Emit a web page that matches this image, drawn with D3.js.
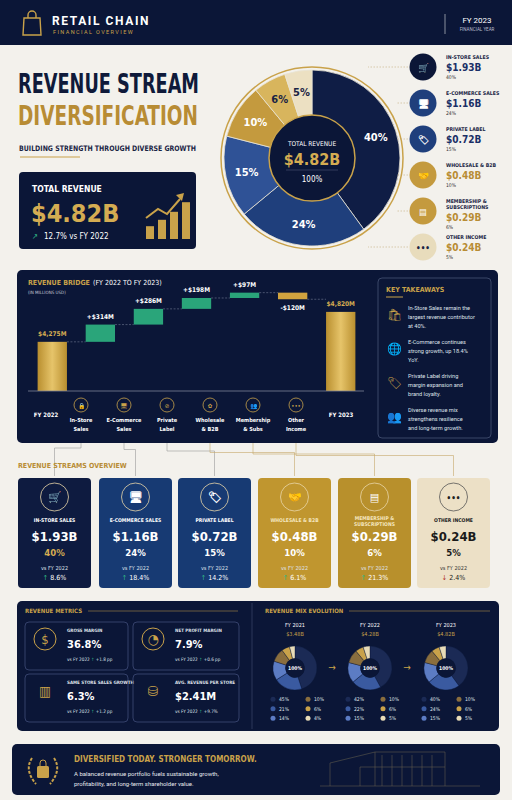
<!DOCTYPE html>
<html><head><meta charset="utf-8">
<script src="https://cdn.jsdelivr.net/npm/d3@7"></script>
<style>body{margin:0;background:#f3f1ec}svg{display:block}</style>
</head><body>
<script>
// ---------- DATA ----------
const streams = ["In-Store Sales","E-Commerce Sales","Private Label","Wholesale & B2B","Membership & Subscriptions","Other Income"];
const streamUpper = ["IN-STORE SALES","E-COMMERCE SALES","PRIVATE LABEL","WHOLESALE & B2B","MEMBERSHIP &|SUBSCRIPTIONS","OTHER INCOME"];
const streamValues = ["$1.93B","$1.16B","$0.72B","$0.48B","$0.29B","$0.24B"];
const streamShares = [40,24,15,10,6,5];
const streamChange = [8.6,18.4,14.2,6.1,21.3,-2.4];
const catLab = ["FY 2022","In-Store|Sales","E-Commerce|Sales","Private|Label","Wholesale|& B2B","Membership|& Subs","Other|Income","FY 2023"];
const bridgeSteps = [4275,314,286,198,97,-120,4820];
const bridgeLabels = ["$4,275M","+$314M","+$286M","+$198M","+$97M","-$120M","$4,820M"];
const takeaways = [["In-Store Sales remain the","largest revenue contributor","at 40%."],["E-Commerce continues","strong growth, up 18.4%","YoY."],["Private Label driving","margin expansion and","brand loyalty."],["Diverse revenue mix","strengthens resilience","and long-term growth."]];
const metricNames = ["GROSS MARGIN","NET PROFIT MARGIN","SAME STORE SALES GROWTH","AVG. REVENUE PER STORE"];
const metricValues = ["36.8%","7.9%","6.3%","$2.41M"];
const metricDeltas = ["+1.8 pp","+0.6 pp","+1.2 pp","+9.7%"];
const mixYears = ["FY 2021","FY 2022","FY 2023"];
const mixTotals = ["$3.48B","$4.28B","$4.82B"];
const mix2021 = [45,21,14,10,6,4];
const mix2022 = [42,22,15,10,6,5];
const mix2023 = [40,24,15,10,6,5];

const colors = ["#0f1d45","#1f3f7c","#2f5296","#c49a3e","#d8b55d","#ece0c2"];
const mixColors = ["#1b2a55","#3a5aa0","#5c7cc4","#8a6e3e","#c9a24a","#e8dcb8"];
const NAVY="#0b1637", GOLD="#c9a24a", GREEN="#2fb585";
const F="'DejaVu Sans Condensed','Roboto',sans-serif";
const FB="'Roboto','DejaVu Sans',sans-serif";

const svg=d3.select("body").append("svg").attr("width",512).attr("height",800).style("font-family",F);
svg.append("rect").attr("width",512).attr("height",800).attr("fill","#f3f1ec");
const t=(g,x,y,size,opt={})=>g.append("text").attr("x",x).attr("y",y)
  .attr("font-size",size).attr("fill",opt.fill||"#fff").attr("font-weight",opt.w||"normal")
  .attr("text-anchor",opt.a||"start").attr("letter-spacing",opt.ls||0).attr("font-family",opt.f||F);

// ---------- HEADER ----------
svg.append("rect").attr("width",512).attr("height",45).attr("fill",NAVY);
svg.append("path").attr("d","M24 18 h16 l1 17 h-18 z M28 18 v-3 a4 4 0 0 1 8 0 v3").attr("fill","none").attr("stroke",GOLD).attr("stroke-width",1.4);
t(svg,52,25,12,{w:"bold",ls:1.6,f:FB}).text("RETAIL CHAIN");
t(svg,53,34,5.5,{fill:GOLD,ls:1.4,f:FB}).text("FINANCIAL OVERVIEW");
svg.append("line").attr("x1",445).attr("x2",445).attr("y1",14).attr("y2",34).attr("stroke","#8a8f9e");
t(svg,477,23,8,{a:"middle",f:FB}).text("FY 2023");
t(svg,477,31,4.5,{a:"middle",fill:"#b8bccb",f:FB}).text("FINANCIAL YEAR");

// ---------- TITLE ----------
t(svg,18,93,27,{w:"bold",fill:"#0f1a3a"}).attr("textLength",181).attr("lengthAdjust","spacingAndGlyphs").text("REVENUE STREAM");
t(svg,18,125,27,{w:"bold",fill:"#b88c34"}).attr("textLength",180).attr("lengthAdjust","spacingAndGlyphs").text("DIVERSIFICATION");
t(svg,19,151,7.5,{w:"bold",fill:"#1a2444"}).attr("textLength",177).attr("lengthAdjust","spacingAndGlyphs").text("BUILDING STRENGTH THROUGH DIVERSE GROWTH");
svg.append("line").attr("x1",20).attr("x2",80).attr("y1",157).attr("y2",157).attr("stroke",GOLD).attr("stroke-width",1.2);
svg.append("rect").attr("x",19).attr("y",172).attr("width",177).attr("height",77).attr("rx",4).attr("fill",NAVY);
t(svg,32,192,8.5,{w:"bold"}).text("TOTAL REVENUE");
t(svg,31,222,25,{w:"bold",fill:"#d4ac52"}).text("$4.82B");
t(svg,32,239,8,{fill:GREEN}).text("↗");
t(svg,44,239,8).text("12.7% vs FY 2022");
[1.6,2.4,3.4,4.6].forEach((v,i)=>svg.append("rect").attr("x",146+i*12).attr("width",8).attr("y",239-v*8).attr("height",v*8).attr("fill",GOLD));
svg.append("path").attr("d","M146 218 l12 -9 l9 5 l13 -15").attr("fill","none").attr("stroke",GOLD).attr("stroke-width",2);
svg.append("path").attr("d","M176 195 l8 -2 l-2 8 z").attr("fill",GOLD);

// ---------- MAIN DONUT ----------
const cx=312,cy=158;
const pie=d3.pie().sort(null).value(d=>d);
const arcs=pie(streamShares);
const arc=d3.arc().innerRadius(40).outerRadius(88);
const dg=svg.append("g").attr("transform",`translate(${cx},${cy})`);
dg.append("circle").attr("r",91).attr("fill","none").attr("stroke",GOLD).attr("stroke-width",1.5);
dg.selectAll("path").data(arcs).join("path").attr("d",arc).attr("fill",(d,i)=>colors[i]).attr("stroke","#e9e3d4").attr("stroke-width",0.8);
const lab=d3.arc().innerRadius(67).outerRadius(67);
dg.selectAll("text.p").data(arcs).join("text").attr("class","p")
  .attr("transform",d=>`translate(${lab.centroid(d)})`).attr("dy","0.35em").attr("text-anchor","middle")
  .attr("font-size",11).attr("font-weight","bold").attr("fill",(d,i)=>i==5||i==4?"#1a2444":"#fff")
  .text((d,i)=>streamShares[i]+"%");
dg.append("circle").attr("r",43).attr("fill",NAVY).attr("stroke",GOLD).attr("stroke-width",1.5);
t(dg,0,-12,6.5,{a:"middle"}).text("TOTAL REVENUE");
t(dg,0,7,16,{a:"middle",w:"bold",fill:"#d4ac52"}).text("$4.82B");
dg.append("line").attr("x1",-26).attr("x2",26).attr("y1",12).attr("y2",12).attr("stroke","#5a6380").attr("stroke-width",0.5);
t(dg,0,24,8,{a:"middle"}).text("100%");

// legend right
const legIcons=["🛒","🖥","🏷","🤝","▤","•••"];
streams.forEach((s,i)=>{
  const y=67+i*36;
  svg.append("circle").attr("cx",423).attr("cy",y).attr("r",13.5).attr("fill",i<1?NAVY:i<3?"#1f3f7c":i<5?"#c49a3e":"#e8dcbc");
  t(svg,423,y+3.5,i==5?8:9,{a:"middle",fill:i==5?"#1a2444":"#fff",w:"bold"}).text(legIcons[i]);
  const nm=streamUpper[i].split("|");
  nm.forEach((n,j)=>t(svg,446,y-8+j*6,5.2,{w:"bold",fill:"#1a2444"}).text(n));
  const off=(nm.length-1)*6;
  t(svg,446,y+4+off,10,{w:"bold",fill:i<3?"#1a2f66":"#b88c34"}).text(streamValues[i]);
  t(svg,446,y+12+off,5,{fill:"#333"}).text(streamShares[i]+"%");
  svg.append("path").attr("d",`M408 ${y} h-${i==0||i==5?40:12}`).attr("stroke","#b9a06a").attr("stroke-width",0.5).attr("stroke-dasharray","1.5,1.5");
});

// ---------- BRIDGE ----------
svg.append("rect").attr("x",17).attr("y",270).attr("width",481).attr("height",173).attr("rx",5).attr("fill",NAVY);
t(svg,28,285,7,{w:"bold",fill:GOLD}).text("REVENUE BRIDGE");
t(svg,93,285,7,{fill:"#fff"}).text("(FY 2022 TO FY 2023)");
t(svg,28,294,4.5,{fill:"#c8ccd8"}).text("(IN MILLIONS USD)");
const y=d3.scaleLinear().domain([3380,5000]).range([391,302]);
let run=0; const bars=[];
bridgeSteps.forEach((v,i)=>{
  if(i==0){bars.push({s:y.domain()[0],e:v,k:"t"});run=v;}
  else if(i==6){bars.push({s:y.domain()[0],e:v,k:"t"});}
  else {bars.push({s:run,e:run+v,k:v>0?"p":"n"});run+=v;}
});
const grad=svg.append("defs").append("linearGradient").attr("id","gg").attr("x1",0).attr("x2",1);
grad.append("stop").attr("offset",0).attr("stop-color","#b98f2f");grad.append("stop").attr("offset",.5).attr("stop-color","#e6c46a");grad.append("stop").attr("offset",1).attr("stop-color","#b98f2f");
const xb=d3.scaleBand().domain(d3.range(7)).range([28,365]).paddingInner(0.39).paddingOuter(0.2);
bars.forEach((b,i)=>{
  const top=y(Math.max(b.s,b.e)),bot=y(Math.min(b.s,b.e));
  svg.append("rect").attr("x",xb(i)).attr("width",xb.bandwidth()).attr("y",top).attr("height",bot-top)
    .attr("fill",b.k=="t"?"url(#gg)":b.k=="p"?"#2aa57a":"#d1a33f");
  if(i<6) svg.append("line").attr("x1",xb(i)+xb.bandwidth()).attr("x2",xb(i+1)).attr("y1",y(b.e)).attr("y2",y(b.e)).attr("stroke","#8890a8").attr("stroke-width",0.5).attr("stroke-dasharray","2,1.5");
  const ly=b.k=="n"?bot+11:top-6;
  t(svg,xb(i)+xb.bandwidth()/2,ly,6.5,{a:"middle",w:"bold",fill:b.k=="t"?"#d4ac52":"#fff"}).text(bridgeLabels[i]);
});
svg.append("line").attr("x1",28).attr("x2",364).attr("y1",391).attr("y2",391).attr("stroke","#7d8498").attr("stroke-width",0.8);
const bIcons=["","🔒","🖥","⊘","✿","👥","•••",""];
const labX=[46,81,124,167,210,253,296,341];
catLab.forEach((c,i)=>{
  const parts=c.split("|");
  if(parts.length==1){t(svg,labX[i],417,6,{a:"middle",w:"bold"}).text(c);}
  else{
    svg.append("circle").attr("cx",labX[i]).attr("cy",405).attr("r",7).attr("fill","none").attr("stroke",GOLD).attr("stroke-width",0.8);
    t(svg,labX[i],407.5,6,{a:"middle",fill:GOLD}).text(bIcons[i]);
    parts.forEach((p,j)=>t(svg,labX[i],422+j*8.5,5.5,{a:"middle",w:"bold"}).text(p));
  }
});
// key takeaways
svg.append("rect").attr("x",378).attr("y",278).attr("width",113).attr("height",160).attr("rx",4).attr("fill","none").attr("stroke","#3a4668");
t(svg,386,292,7,{w:"bold",fill:GOLD}).text("KEY TAKEAWAYS");
svg.append("line").attr("x1",386).attr("x2",403).attr("y1",297).attr("y2",297).attr("stroke",GOLD);
const tkIcons=["🛍","🌐","🏷","👥"];
takeaways.forEach((lines,i)=>{
  const yy=310+i*34;
  t(svg,394,yy+9,12,{a:"middle",fill:GOLD}).text(tkIcons[i]);
  lines.forEach((l,j)=>t(svg,408,yy+j*9,5.6,{fill:"#dfe2ea",f:FB}).text(l));
});

// ---------- CONNECTORS ----------
const cardX=[18,99,178,258,338,417], cw=73;
const conn=svg.append("g").attr("fill","none").attr("stroke-width",0.6);
[81,124,167,210,253,296].forEach((lx,i)=>{
  const tx=cardX[i]+cw/2;
  conn.append("path").attr("d",`M${lx} 443 V${448+i*1.5} H${tx} V476`).attr("stroke",i>2?"#c6a86a":"#9a9a9a");
});

// ---------- STREAM CARDS ----------
t(svg,18,468,7,{w:"bold",fill:"#b88c34"}).text("REVENUE STREAMS OVERVIEW");
const cardFill=["#0e1b40","#173a73","#173a73","#c0962f","#b8902c","#ece0c6"];
const cIcons=["🛒","🖥","🏷","🤝","▤","•••"];
streams.forEach((s,i)=>{
  const x0=cardX[i],g=svg.append("g");
  const mx=x0+cw/2;
  g.append("rect").attr("x",x0).attr("y",478).attr("width",cw).attr("height",110).attr("rx",4).attr("fill",cardFill[i]);
  g.append("circle").attr("cx",mx).attr("cy",497).attr("r",14).attr("fill","none").attr("stroke",i==5?"#555":"#e8d6a8").attr("stroke-width",0.8);
  t(g,mx,501,i==5?8:11,{a:"middle",fill:i==5?"#222":"#fff",w:"bold"}).text(cIcons[i]);
  const nm=streamUpper[i].split("|");
  nm.forEach((n,j)=>t(g,mx,nm.length>1?520+j*6:522,5,{a:"middle",w:"bold",fill:i==5?"#222":i>2?"#f4e6bf":"#fff"}).text(n));
  t(g,mx,541,13,{a:"middle",w:"bold",fill:i==5?"#1a1a1a":"#fff"}).text(streamValues[i]);
  t(g,mx,556,9.5,{a:"middle",w:"bold",fill:i==0?"#d4ac52":i==5?"#1a1a1a":"#fff"}).text(streamShares[i]+"%");
  t(g,mx,570,5.5,{a:"middle",fill:i==5?"#333":"#dfe2ea"}).text("vs FY 2022");
  const c=streamChange[i];
  const tc=t(g,mx,580,7,{a:"middle",fill:i==5?"#222":"#fff"});
  tc.append("tspan").attr("fill",c>0?GREEN:"#b0302a").text(c>0?"↑ ":"↓ ");
  tc.append("tspan").text(Math.abs(c)+"%");
});

// ---------- METRICS ----------
svg.append("rect").attr("x",17).attr("y",601).attr("width",482).attr("height",130).attr("rx",5).attr("fill",NAVY);
svg.append("line").attr("x1",252).attr("x2",252).attr("y1",603).attr("y2",729).attr("stroke","#2c375a");
t(svg,25,613,6,{w:"bold",fill:GOLD}).text("REVENUE METRICS");
svg.append("line").attr("x1",88).attr("x2",238).attr("y1",611).attr("y2",611).attr("stroke",GOLD).attr("stroke-width",0.5);
const mIcons=["$","◔","▥","⛁"];
metricNames.forEach((n,i)=>{
  const x0=i%2?133:25, y0=i<2?622:674;
  svg.append("rect").attr("x",x0).attr("y",y0).attr("width",i%2?106:103).attr("height",48).attr("rx",4).attr("fill","none").attr("stroke","#34406a");
  if(i<2) svg.append("circle").attr("cx",x0+20).attr("cy",y0+17).attr("r",11).attr("fill","none").attr("stroke",GOLD).attr("stroke-width",1);
  t(svg,x0+20,y0+22,i==0?13:14,{a:"middle",fill:GOLD}).text(mIcons[i]);
  t(svg,x0+42,y0+10,4.5,{w:"bold",fill:"#dfe2ea"}).text(n);
  t(svg,x0+42,y0+26,11,{w:"bold"}).text(metricValues[i]);
  const tt=t(svg,x0+42,y0+39,4.6,{fill:"#dfe2ea"});
  tt.append("tspan").text("vs FY 2022 ");tt.append("tspan").attr("fill",GREEN).text("↑ ");tt.append("tspan").text(metricDeltas[i]);
});

// ---------- MIX EVOLUTION ----------
t(svg,265,613,6,{w:"bold",fill:GOLD}).text("REVENUE MIX EVOLUTION");
svg.append("line").attr("x1",349).attr("x2",490).attr("y1",611).attr("y2",611).attr("stroke",GOLD).attr("stroke-width",0.5);
const mixes=[mix2021,mix2022,mix2023], mcx=[295,370,446];
const marc=d3.arc().innerRadius(9.5).outerRadius(22);
mixes.forEach((m,k)=>{
  t(svg,mcx[k],627,5.5,{a:"middle"}).text(mixYears[k]);
  t(svg,mcx[k],636,5.5,{a:"middle",fill:GOLD}).text(mixTotals[k]);
  const g=svg.append("g").attr("transform",`translate(${mcx[k]},668)`);
  g.selectAll("path").data(pie(m)).join("path").attr("d",marc).attr("fill",(d,i)=>mixColors[i]).attr("stroke",NAVY).attr("stroke-width",0.4);
  g.append("circle").attr("r",9.5).attr("fill",NAVY);
  t(g,0,2,5,{a:"middle",w:"bold"}).text("100%");
  if(k<2) t(svg,mcx[k]+37,671,10,{a:"middle",fill:GOLD}).text("→");
  m.forEach((v,i)=>{
    const lx=mcx[k]-22+(i>=3?35:0), ly=701+(i%3)*9.5;
    svg.append("circle").attr("cx",lx).attr("cy",ly-1.7).attr("r",2.5).attr("fill",mixColors[i]);
    t(svg,lx+6,ly,5,{fill:"#dfe2ea"}).text(v+"%");
  });
});

// ---------- FOOTER ----------
svg.append("rect").attr("x",12).attr("y",744).attr("width",488).attr("height",51).attr("rx",5).attr("fill",NAVY);
svg.append("path").attr("d","M32 758 q-8 12 4 26 M54 758 q8 12 -4 26").attr("fill","none").attr("stroke",GOLD).attr("stroke-width",2).attr("stroke-dasharray","3,1.5");
svg.append("rect").attr("x",37).attr("y",766).attr("width",12).attr("height",12).attr("rx",1.5).attr("fill",GOLD);
svg.append("path").attr("d","M40 766 v-3 a3 3 0 0 1 6 0 v3").attr("fill","none").attr("stroke",GOLD);
t(svg,74,762,8,{w:"bold",fill:GOLD}).text("DIVERSIFIED TODAY. STRONGER TOMORROW.");
t(svg,74,776,6,{fill:"#e6e8ee",f:FB}).text("A balanced revenue portfolio fuels sustainable growth,");
t(svg,74,786,6,{fill:"#e6e8ee",f:FB}).text("profitability, and long-term shareholder value.");
const bld=svg.append("g").attr("stroke","#6c6650").attr("stroke-width",0.5).attr("fill","none");
bld.append("path").attr("d","M330 786 V763 L375 752 H445 V786 M360 786 V767 H445 M375 752 V786");
d3.range(6).forEach(i=>bld.append("line").attr("x1",382+i*10).attr("x2",382+i*10).attr("y1",755).attr("y2",786));
bld.append("line").attr("x1",320).attr("x2",480).attr("y1",786).attr("y2",786);
</script>
</body></html>
